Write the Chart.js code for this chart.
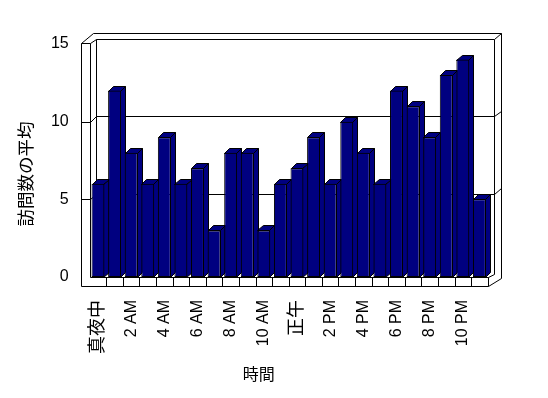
<!DOCTYPE html>
<html><head><meta charset="utf-8">
<script src="https://cdn.jsdelivr.net/npm/chart.js@4"></script>
<style>html,body{margin:0;padding:0;background:#fff}#wrap{width:548px;height:398px}</style>
</head><body><div id="wrap"><canvas id="c" width="548" height="398"></canvas></div>
<script>
const hours = ['真夜中','1 AM','2 AM','3 AM','4 AM','5 AM','6 AM','7 AM','8 AM','9 AM','10 AM','11 AM','正午','1 PM','2 PM','3 PM','4 PM','5 PM','6 PM','7 PM','8 PM','9 PM','10 PM','11 PM'];
const visits = [6,12,8,6,9,6,7,3,8,8,3,6,7,9,6,10,8,6,12,11,9,13,14,5];
const yMax = 15;
const yStep = 5;
const yTitle = '訪問数の平均';
const xTitle = '時間';

const NAVY = '#000080';
const FAMILY = '"Liberation Sans", "Noto Sans CJK JP", sans-serif';
Chart.defaults.font.family = FAMILY;
Chart.defaults.color = '#000';

function px(v){ return Math.round(v) + 0.5; }
function line(ctx, pts){
  ctx.beginPath();
  ctx.moveTo(px(pts[0][0]), px(pts[0][1]));
  for (let i = 1; i < pts.length; i++) ctx.lineTo(px(pts[i][0]), px(pts[i][1]));
  ctx.stroke();
}
function poly(ctx, pts, fill){
  ctx.beginPath();
  ctx.moveTo(px(pts[0][0]), px(pts[0][1]));
  for (let i = 1; i < pts.length; i++) ctx.lineTo(px(pts[i][0]), px(pts[i][1]));
  ctx.closePath();
  ctx.fillStyle = fill; ctx.fill();
  ctx.stroke();
}

const frame3d = {
  id: 'frame3d',
  beforeDatasetsDraw(chart) {
    const ctx = chart.ctx;
    const xs = chart.scales.x, ys = chart.scales.y;
    const L = xs.left, R = xs.right;
    const B = ys.getPixelForValue(0), T = ys.getPixelForValue(yMax);
    const bx = 6.5, by = -5.5, ox = 6.5, oy = -5.5, lw = 8.7, fd = 9;
    ctx.save();
    ctx.strokeStyle = '#000'; ctx.lineWidth = 1;
    // left wall
    line(ctx, [[L - lw, T - 1], [L - lw, B + fd]]);
    line(ctx, [[L, T - 1], [L, B]]);
    line(ctx, [[L - lw, T - 1], [L, T - 1]]);
    // outer edges
    line(ctx, [[L - lw, T - 1], [L + bx - 3, T + by + oy], [R + bx + ox, T + by + oy], [R + bx + ox, B + 1], [R, B + fd]]);
    // back wall
    line(ctx, [[L, T - 1], [L + bx, T + by], [R + bx, T + by], [R + bx, B - 3], [R, B]]);
    line(ctx, [[R + bx, T + by], [R + bx + ox, T + by + oy]]);
    line(ctx, [[L + bx, T + by], [L + bx, B + by]]);
    // grid lines
    for (let v = yStep; v < yMax; v += yStep) {
      const y = ys.getPixelForValue(v);
      line(ctx, [[L - lw, y], [L, y], [L + bx, y + by], [R + bx, y + by], [R + bx + ox, y + by + oy]]);
    }
    // floor
    line(ctx, [[L - lw, B + fd], [R, B + fd], [R, B], [L, B]]);
    const n = hours.length;
    for (let k = 1; k < n; k++) {
      const xb = (xs.getPixelForValue(k - 1) + xs.getPixelForValue(k)) / 2;
      line(ctx, [[xb, B], [xb, B + fd]]);
    }
    // bar sides and tops
    const dx = 5.2, dy = -5;
    const meta = chart.getDatasetMeta(0);
    meta.data.forEach(bar => {
      const p = bar.getProps(['x', 'y', 'base', 'width'], true);
      const l = p.x - p.width / 2, r = p.x + p.width / 2 - 1;
      poly(ctx, [[r, p.y], [r + dx, p.y + dy], [r + dx, p.base + dy], [r, p.base]], NAVY);
      poly(ctx, [[l, p.y], [l + dx, p.y + dy], [r + dx, p.y + dy], [r, p.y]], NAVY);
    });
    ctx.restore();
  },
  afterDraw(chart) {
    const ctx = chart.ctx;
    const xs = chart.scales.x, ys = chart.scales.y;
    ctx.save();
    ctx.fillStyle = '#000';
    ctx.textAlign = 'center';
    ctx.textBaseline = 'middle';
    ctx.font = '16px ' + FAMILY;
    ctx.fillText(xTitle, (xs.left + xs.right) / 2 - 30, 376);
    ctx.translate(27.5, (ys.top + ys.bottom) / 2 + 13.5);
    ctx.rotate(-Math.PI / 2);
    ctx.font = '17.5px ' + FAMILY;
    ctx.fillText(yTitle, 0, 0);
    ctx.restore();
  }
};

new Chart(document.getElementById('c'), {
  type: 'bar',
  data: {
    labels: hours,
    datasets: [{
      data: visits,
      backgroundColor: NAVY,
      borderColor: '#000',
      borderWidth: 1,
      borderSkipped: false,
      barPercentage: 0.78,
      categoryPercentage: 1
    }]
  },
  options: {
    responsive: false,
    animation: false,
    events: [],
    layout: { padding: { top: 44, right: 60.3, left: 0, bottom: 0 } },
    plugins: { legend: { display: false }, tooltip: { enabled: false } },
    scales: {
      x: {
        grid: { display: false, drawTicks: false },
        border: { display: false },
        ticks: {
          autoSkip: false, minRotation: 90, maxRotation: 90, padding: 23,
          font: (c) => ({ size: /[^\x00-\x7F]/.test(String(hours[c.index])) ? 18 : 16 }),
          color: '#000',
          callback: function(v, i) { return i % 2 === 0 ? hours[i] : ''; }
        },
        afterFit: s => { s.height = 121; }
      },
      y: {
        min: 0, max: yMax,
        grid: { display: false, drawTicks: false },
        border: { display: false },
        ticks: { stepSize: yStep, padding: 21, font: { size: 16 }, color: '#000' },
        afterFit: s => { s.width = 89.7; }
      }
    }
  },
  plugins: [frame3d]
});
</script>
</body></html>
